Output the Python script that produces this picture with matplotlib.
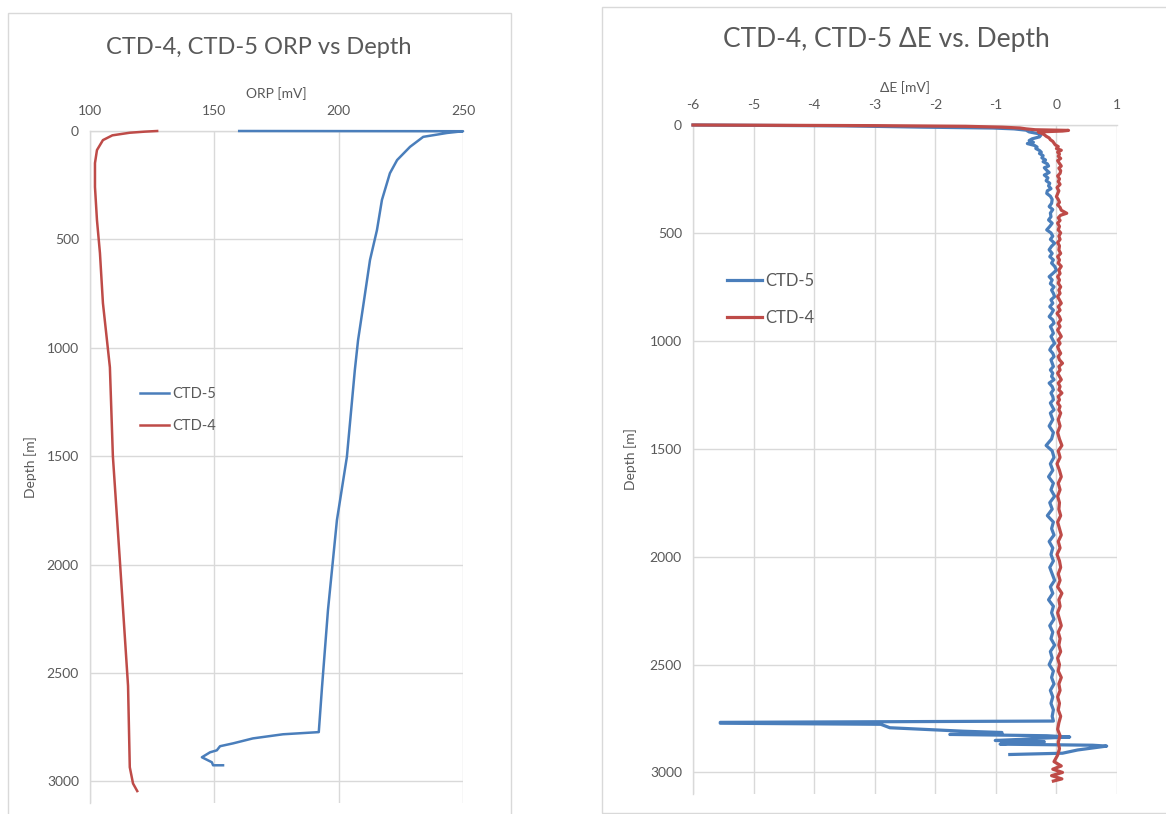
import matplotlib
matplotlib.use("Agg")
import matplotlib.pyplot as plt
from matplotlib.patches import Rectangle

plt.rcParams['font.family'] = ['Lato', 'DejaVu Sans']
plt.rcParams['axes.unicode_minus'] = False

BLUE = "#4a7ebb"
RED = "#be4b48"
TXT = "#595959"
GRID = "#d9d9d9"

# ORP profiles (depth in m, ORP in mV)
ctd5_orp_depth = [0, 1, 9, 27, 73, 134, 195, 318, 457, 595, 812, 965, 1103, 1504, 1795,
                  1980, 2210, 2566, 2773, 2783, 2802, 2825, 2838, 2857, 2866, 2889, 2912,
                  2926, 2926]
ctd5_orp = [160, 250, 243.6, 234, 228.7, 223.5, 220.6, 217.4, 215.4, 212.6, 209.8, 207.8,
            206.5, 203.3, 199.3, 197.7, 195.7, 193.3, 192.0, 177.6, 165.5, 157.5, 152.3,
            151.0, 148.3, 145.0, 149.0, 149.5, 153.5]

ctd4_orp_depth = [0, 3, 8, 20, 42, 88, 148, 258, 411, 563, 794, 1090, 1500, 1980, 2560,
                  2935, 3010, 3045]
ctd4_orp = [127, 122, 116, 109, 105.2, 102.8, 102, 102, 102.8, 104, 105.2, 108, 109.2,
            112, 115.3, 116, 117.3, 119]

# Delta E profiles (depth in m, dE in mV)
ctd5_de_depth = [0, 4, 10, 14, 18, 24, 32, 40, 48, 55, 64, 72, 80, 86, 95, 102, 109, 118,
                 126, 132, 142, 152, 162, 170, 180, 190, 198, 210, 220, 232, 245, 258, 270,
                 282, 295, 305, 317, 330, 345, 363, 378, 392, 408, 425, 440, 455, 470, 486,
                 500, 515, 530, 548, 562, 578, 595, 610, 625, 640, 655, 672, 688, 703, 718,
                 735, 750, 765, 780, 795, 810, 826, 842, 858, 873, 888, 903, 918, 934, 950,
                 965, 980, 996, 1012, 1027, 1042, 1058, 1073, 1088, 1104, 1119, 1135, 1150,
                 1165, 1180, 1196, 1212, 1227, 1242, 1258, 1273, 1288, 1304, 1320, 1335,
                 1365, 1395, 1425, 1455, 1485, 1510, 1540, 1570, 1600, 1630, 1660, 1690,
                 1720, 1750, 1780, 1810, 1840, 1870, 1900, 1930, 1960, 1990, 2020, 2050,
                 2080, 2110, 2140, 2170, 2200, 2230, 2260, 2290, 2320, 2350, 2380, 2410,
                 2440, 2470, 2500, 2530, 2560, 2590, 2620, 2650, 2680, 2710, 2740, 2762,
                 2768, 2772, 2777, 2793, 2809, 2815, 2820, 2824, 2830, 2836, 2842, 2847,
                 2852, 2858, 2864, 2869, 2874, 2878, 2896, 2911, 2917]
ctd5_de = [-6.0, -3.5, -2.2, -1.05, -0.7, -0.5, -0.45, -0.3, -0.26, -0.28, -0.4, -0.45,
           -0.38, -0.48, -0.36, -0.32, -0.34, -0.28, -0.25, -0.28, -0.22, -0.24, -0.18,
           -0.22, -0.15, -0.13, -0.2, -0.16, -0.12, -0.2, -0.14, -0.17, -0.11, -0.13, -0.09,
           -0.15, -0.16, -0.1, -0.07, -0.08, -0.12, -0.06, -0.1, -0.09, -0.13, -0.07, -0.11,
           -0.16, -0.09, -0.06, -0.1, -0.03, -0.08, -0.12, -0.07, -0.11, -0.05, -0.08, -0.03,
           0.0, -0.06, -0.12, -0.07, -0.1, -0.04, -0.08, -0.05, -0.03, -0.09, -0.06, -0.11,
           -0.05, -0.08, -0.12, -0.06, -0.04, -0.1, -0.07, -0.05, -0.09, -0.06, -0.03, -0.08,
           -0.11, -0.06, -0.04, -0.09, -0.07, -0.05, -0.1, -0.06, -0.08, -0.04, -0.12, -0.07,
           -0.05, -0.09, -0.06, -0.05, -0.1, -0.07, -0.04, -0.1,
           -0.06, -0.12, -0.05, -0.08, -0.17, -0.07, -0.04, -0.1, -0.06, -0.13, -0.05, -0.09,
           -0.03, -0.11, -0.07, -0.15, -0.05, -0.08, -0.04, -0.12, -0.06, -0.09, -0.05, -0.11,
           -0.07, -0.03, -0.1, -0.06, -0.13, -0.05, -0.08, -0.04, -0.11, -0.06, -0.09, -0.03,
           -0.1, -0.07, -0.12, -0.05, -0.08, -0.04, -0.1, -0.06, -0.09, -0.05, -0.07, -0.05,
           -5.55, -5.55, -2.9, -2.75, -1.54, -0.9, -0.9, -1.76, -0.16, 0.22, -0.3, -0.6,
           -1.01, -0.2, -0.75, -0.93, 0.6, 0.83, 0.35, 0.1, -0.77]

ctd4_de_depth = [0, 3, 6, 10, 14, 18, 22, 25, 28, 32, 38, 45, 52, 60, 68, 76, 84, 92, 100,
                 109, 117, 126, 135, 145, 155, 165, 178, 190, 200, 212, 224, 236, 250, 262,
                 275, 290, 305, 318, 332, 345, 358, 370, 382, 395, 409, 418, 430, 442, 455,
                 470, 486, 500, 515, 530, 545, 560, 579, 595, 610, 625, 640, 655, 672, 688,
                 703, 718, 733, 750, 765, 780, 795, 810, 826, 842, 858, 873, 888, 903, 918,
                 934, 950, 965, 980, 996, 1012, 1027, 1042, 1058, 1073, 1088, 1104, 1119,
                 1135, 1150, 1165, 1180, 1196, 1212, 1227, 1242, 1258, 1273, 1288, 1304,
                 1320, 1335, 1365, 1395, 1425, 1455, 1485, 1510, 1540, 1570, 1600, 1630,
                 1660, 1690, 1720, 1750, 1780, 1810, 1840, 1870, 1900, 1930, 1960, 1990,
                 2020, 2050, 2080, 2110, 2140, 2170, 2200, 2230, 2260, 2290, 2320, 2350,
                 2380, 2410, 2440, 2470, 2500, 2530, 2560, 2590, 2620, 2650, 2680, 2710,
                 2740, 2770, 2800, 2830, 2860, 2890, 2920, 2950, 2970, 2985, 3000, 3015,
                 3030, 3040]
ctd4_de = [-6.0, -3.0, -1.5, -0.9, -0.6, -0.5, -0.35, 0.2, 0.1, -0.3, -0.25, -0.2, -0.17,
           -0.12, -0.1, -0.06, -0.04, -0.02, 0.03, 0.0, 0.08, 0.02, 0.05, 0.03, 0.07, 0.02,
           0.05, 0.08, 0.04, 0.07, 0.06, 0.02, 0.05, 0.03, 0.06, 0.01, 0.04, 0.02, 0.0, 0.03,
           0.05, 0.02, 0.06, 0.08, 0.17, 0.07, 0.03, 0.06, 0.02, 0.05, 0.03, 0.07, 0.04, 0.06,
           0.02, 0.05, 0.04, 0.07, 0.02, 0.05, 0.03, 0.08, 0.04, 0.06, 0.02, 0.05, 0.03, 0.07,
           0.04, 0.06, 0.02, 0.05, 0.08, 0.03, 0.06, 0.01, 0.05, 0.07, 0.03, 0.06, 0.02, 0.05,
           0.08, 0.03, 0.06, 0.02, 0.04, 0.07, 0.03, 0.05, 0.1, 0.04, 0.06, 0.02, 0.05, 0.08,
           0.03, 0.06, 0.04, 0.09, 0.03, 0.05, 0.02, 0.06, 0.04, 0.07,
           0.03, 0.06, 0.02, 0.05, 0.09, 0.03, 0.06, 0.01, 0.05, 0.08, 0.03, 0.06, 0.02, 0.05,
           0.04, 0.07, 0.02, 0.05, 0.08, 0.03, 0.06, 0.01, 0.05, 0.07, 0.03, 0.06, 0.02, 0.09,
           0.04, 0.06, 0.02, 0.05, 0.08, 0.03, 0.06, 0.04, 0.07, 0.02, 0.05, 0.03, 0.08, 0.04,
           0.06, 0.02, 0.05, 0.03, 0.07, 0.04, 0.02, 0.06, 0.03, 0.05, 0.02, -0.04, 0.08,
           -0.06, 0.1, -0.08, 0.09, -0.05]

orp_ticks = [100, 150, 200, 250]
de_ticks = [-6, -5, -4, -3, -2, -1, 0, 1]
depth_ticks = [0, 500, 1000, 1500, 2000, 2500, 3000]

W, H = 1166, 814
fig = plt.figure(figsize=(W / 100, H / 100), dpi=100)


def fx(px):
    return px / W


def fy(py):
    return 1 - py / H


# chart area frames
fig.add_artist(Rectangle((fx(8), fy(830)), fx(503), (830 - 13) / H, transform=fig.transFigure,
                         fill=False, edgecolor=GRID, linewidth=1))
fig.add_artist(Rectangle((fx(602), fy(813)), fx(600), (813 - 7) / H, transform=fig.transFigure,
                         fill=False, edgecolor=GRID, linewidth=1))


def style_axes(ax, xticks):
    ax.set_ylim(3100, 0)
    ax.set_xticks(xticks)
    ax.set_yticks(depth_ticks)
    ax.xaxis.tick_top()
    ax.xaxis.set_label_position('top')
    ax.grid(True, color=GRID, linewidth=1)
    ax.set_axisbelow(True)
    for s in ['right', 'bottom']:
        ax.spines[s].set_visible(False)
    for s in ['left', 'top']:
        ax.spines[s].set_color(GRID)
        ax.spines[s].set_linewidth(1)
    ax.tick_params(length=0, labelsize=10, labelcolor=TXT)
    ax.tick_params(axis='x', pad=10)
    ax.tick_params(axis='y', pad=8)


# left: ORP vs depth
ax1 = fig.add_axes([fx(90), fy(803), fx(463 - 90), (803 - 131) / H])
ax1.plot(ctd5_orp, ctd5_orp_depth, color=BLUE, lw=1.8, label='CTD-5', clip_on=False, zorder=3)
ax1.plot(ctd4_orp, ctd4_orp_depth, color=RED, lw=1.8, label='CTD-4', clip_on=False, zorder=3)
ax1.set_xlim(100, 250)
style_axes(ax1, orp_ticks)
ax1.set_xlabel('ORP [mV]', fontsize=10, color=TXT, labelpad=5)
ax1.set_ylabel('Depth [m]', fontsize=10, color=TXT, labelpad=7)
ax1.legend(loc='center left', bbox_to_anchor=(0.134, 0.585), frameon=False, fontsize=10.5,
           handlelength=2.0, handletextpad=0.2, labelspacing=1.2, borderpad=0,
           borderaxespad=0, labelcolor=TXT)
fig.text(fx(259), fy(47), 'CTD-4, CTD-5 ORP vs Depth', ha='center', va='center',
         fontsize=17, color=TXT)

# right: delta E vs depth
ax2 = fig.add_axes([fx(693), fy(794), fx(1117 - 693), (794 - 125) / H])
ax2.plot(ctd5_de, ctd5_de_depth, color=BLUE, lw=2.3, label='CTD-5', clip_on=False, zorder=3)
ax2.plot(ctd4_de, ctd4_de_depth, color=RED, lw=2.3, label='CTD-4', clip_on=False, zorder=3)
ax2.set_xlim(-6, 1)
style_axes(ax2, de_ticks)
ax2.set_xlabel('ΔE [mV]', fontsize=10, color=TXT, labelpad=5)
ax2.set_ylabel('Depth [m]', fontsize=10, color=TXT, labelpad=9)
ax2.legend(loc='center left', bbox_to_anchor=(0.080, 0.739), frameon=False, fontsize=12,
           handlelength=2.1, handletextpad=0.2, labelspacing=1.25, borderpad=0,
           borderaxespad=0, labelcolor=TXT)
fig.text(fx(886), fy(40), 'CTD-4, CTD-5 ΔE vs. Depth', ha='center', va='center',
         fontsize=19, color=TXT)

fig.savefig('out.png', dpi=100)
